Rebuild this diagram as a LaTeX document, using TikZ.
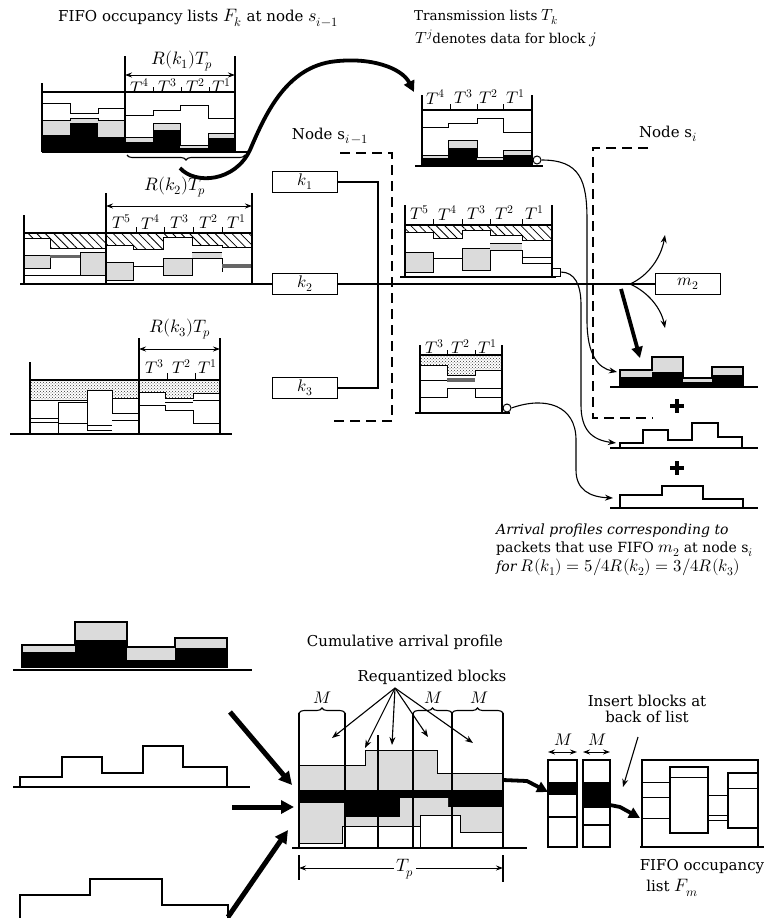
\documentclass[tikz,border=0pt]{standalone}
\usepackage{fontspec}
\usepackage{unicode-math}
\setmainfont{DejaVu Serif}
\setmathfont{Latin Modern Math}[Scale=1.2]
\usetikzlibrary{arrows.meta,decorations.pathreplacing,patterns,patterns.meta}
\tikzset{
 ol/.style={line width=1.5pt},
 il/.style={line width=1pt},
 stip/.style={fill=black!14},
 blk/.style={fill=black},
 hat/.style={pattern={Lines[angle=-45,distance=6pt,line width=0.8pt]}},
 vdot/.style={pattern=crosshatch dots, pattern color=black!80},
 txt/.style={font=\fontsize{15}{17}\selectfont, inner sep=1pt},
 stx/.style={font=\fontsize{13.5}{16}\selectfont, inner sep=1pt},
 ctx/.style={font=\fontsize{14}{15}\selectfont, inner sep=0pt},
 tl/.style={font=\fontsize{14}{16}\selectfont, inner sep=0pt},
 rl/.style={font=\fontsize{15}{17}\selectfont, inner sep=0pt},
 kbox/.style={draw, line width=1.5pt, minimum width=65pt, minimum height=21pt, inner sep=0pt, font=\fontsize{14}{16}\selectfont},
 dsh/.style={line width=1.3pt, dash pattern=on 10pt off 6pt},
 thk/.style={line width=5pt, arrows={-Triangle[length=13pt,width=13pt]}},
 thkc/.style={line width=3.8pt, arrows={-Triangle[length=11pt,width=11pt]}},
 tar/.style={line width=1.1pt, arrows={-Stealth[length=8pt,width=6pt]}},
 dim/.style={line width=1pt, arrows={Stealth[length=7pt,width=5pt]-Stealth[length=7pt,width=5pt]}},
 brc/.style={decorate, decoration={brace, amplitude=5pt}, line width=1.1pt},
}
\begin{document}
\begin{tikzpicture}[x=1pt,y=-1pt]
\useasboundingbox (0,0) rectangle (764,918);

% ---------------- titles ----------------
\node[txt] (title1) at (198,18) {FIFO occupancy lists $F_k$ at node $s_{i-1}$};
\node[stx] (title2) at (486,17) {Transmission lists $T_k$};
\node[stx] (title3) at (506,38) {$T^j$denotes data for block $j$};

% ---------------- F_k1 ----------------
\fill[stip] (42,120) rectangle (70,135); \fill[blk] (42,135) rectangle (70,151);
\fill[stip] (70,118) rectangle (98,123); \fill[blk] (70,123) rectangle (98,151);
\fill[stip] (98,120) rectangle (125,137); \fill[blk] (98,137) rectangle (125,151);
\fill[stip] (125,137) rectangle (153,142); \fill[blk] (125,142) rectangle (153,151);
\fill[stip] (153,123) rectangle (180,130); \fill[blk] (153,130) rectangle (180,151);
\fill[stip] (180,145) rectangle (208,148); \fill[blk] (180,148) rectangle (208,151);
\fill[stip] (208,133) rectangle (235,138); \fill[blk] (208,138) rectangle (235,151);
\draw[il] (42,120)--(70,120)--(70,118)--(98,118)--(98,120)--(125,120);
\draw[il] (125,137)--(153,137)--(153,123)--(180,123)--(180,145)--(208,145)--(208,133)--(235,133);
\draw[il] (42,103)--(70,103)--(70,113)--(98,113)--(98,108)--(125,108);
\draw[il] (125,115)--(153,115)--(153,110)--(180,110)--(180,105)--(208,105)--(208,118)--(235,118);
\draw[ol] (42,83)--(42,152) (125,56)--(125,152) (235,56)--(235,152) (42,92)--(235,92) (42,152)--(248,152);
\draw[dim] (125,75)--(235,75);
\node[rl] (r1) at (182,61) {$R(k_1)T_p$};
\node[tl] (a4) at (140,86) {$T^4$};
\node[tl] (a3) at (168,86) {$T^3$};
\node[tl] (a2) at (196,86) {$T^2$};
\node[tl] (a1) at (222,86) {$T^1$};
\draw[il] (153,87)--(153,92) (181,87)--(181,92) (209,87)--(209,92);
\draw[brc] (245,155) -- (127,155);
% thick curved arrow to T_k1
\draw[thkc] (180,168) .. controls (195,185) and (235,182) .. (250,150) .. controls (265,115) and (285,70) .. (330,62) .. controls (370,56) and (402,68) .. (414,92);

% ---------------- F_k2 ----------------
\fill[hat] (24,233)--(106,233)--(106,248)--(50,248)--(50,238)--(24,238)--cycle;
\fill[hat] (106,233)--(252,233)--(252,247)--(222,247)--(222,245)--(192,245)--(192,237)--(163,237)--(163,249)--(133,249)--(133,245)--(106,245)--cycle;
\draw[il] (24,238)--(50,238)--(50,248)--(106,248);
\draw[il] (106,245)--(133,245)--(133,249)--(163,249)--(163,237)--(192,237)--(192,245)--(222,245)--(222,247)--(252,247);
\draw[il,stip] (24,255) rectangle (50,268);
\fill[black!60] (50,255) rectangle (80,258);
\draw[il,stip] (80,252) rectangle (106,275);
\draw[il] (24,275)--(80,275);
\draw[il,stip] (106,262) rectangle (133,280);
\draw[il] (133,266)--(163,266);
\draw[il,stip] (163,258) rectangle (192,275);
\fill[stip] (192,252) rectangle (222,258);
\draw[il] (192,252)--(222,252) (192,258)--(222,258)--(222,272);
\fill[black!60] (222,264) rectangle (252,268);
\draw[ol] (24,215)--(24,285) (106,193)--(106,285) (252,193)--(252,285) (24,233)--(252,233);
\draw[dim] (106,206)--(252,206);
\node[rl] (r2) at (175,187) {$R(k_2)T_p$};
\node[tl] (b5) at (122,222) {$T^5$};
\node[tl] (b4) at (151,222) {$T^4$};
\node[tl] (b3) at (180,222) {$T^3$};
\node[tl] (b2) at (209,222) {$T^2$};
\node[tl] (b1) at (237,222) {$T^1$};
\draw[il] (136,227)--(136,233) (164,227)--(164,233) (193,227)--(193,233) (222,227)--(222,233);

% ---------------- F_k3 ----------------
\fill[vdot] (30,380)--(220,380)--(220,393)--(193,393)--(193,398)--(165,398)--(165,392)--(139,392)--(139,398)--(112,398)--(112,390)--(87,390)--(87,400)--(30,400)--cycle;
\draw[il] (30,400)--(87,400)--(87,390)--(112,390)--(112,398)--(139,398);
\draw[il] (139,392)--(165,392)--(165,398)--(193,398)--(193,393)--(220,393);
\draw[il] (30,418)--(58,418) (30,422)--(58,422);
\draw[il] (58,434)--(58,402)--(87,402);
\draw[il] (58,423)--(87,423);
\draw[il] (87,390)--(87,430)--(112,430) (87,425)--(112,425);
\draw[il] (112,398)--(112,413)--(139,413) (112,420)--(139,420);
\draw[il] (165,402)--(193,402);
\draw[il] (139,405)--(165,405)--(165,410)--(193,410)--(193,423)--(220,423);
\draw[il] (193,400)--(220,400);
\draw[ol] (30,362)--(30,434) (139,338)--(139,434) (220,338)--(220,434) (30,380)--(220,380) (10,434)--(232,434);
\draw[dim] (139,349)--(220,349);
\node[rl] (r3) at (180,329) {$R(k_3)T_p$};
\node[tl] (c3) at (155,367) {$T^3$};
\node[tl] (c2) at (182,367) {$T^2$};
\node[tl] (c1) at (208,367) {$T^1$};
\draw[il] (167,373)--(167,380) (195,373)--(195,380);

% ---------------- T_k1 ----------------
\fill[stip] (422,155) rectangle (448,158); \fill[blk] (422,158) rectangle (448,165);
\fill[stip] (448,140) rectangle (477,148); \fill[blk] (448,148) rectangle (477,165);
\fill[stip] (477,157) rectangle (503,160); \fill[blk] (477,160) rectangle (503,165);
\fill[stip] (503,150) rectangle (532,155); \fill[blk] (503,155) rectangle (532,165);
\draw[il] (422,155)--(448,155)--(448,140)--(477,140)--(477,157)--(503,157)--(503,150)--(532,150);
\draw[il] (422,127)--(448,127)--(448,123)--(477,123)--(477,118)--(503,118)--(503,132)--(532,132);
\draw[ol] (422,95)--(422,165) (532,95)--(532,165) (422,110)--(532,110) (415,166)--(543,166);
\node[tl] (d4) at (436,97) {$T^4$};
\node[tl] (d3) at (464,97) {$T^3$};
\node[tl] (d2) at (489,97) {$T^2$};
\node[tl] (d1) at (516,97) {$T^1$};
\draw[il] (450,104)--(450,110) (477,104)--(477,110) (503,104)--(503,110);
\node[circle, draw, il, fill=white, inner sep=0pt, minimum size=8pt] (o1) at (537,160) {};

% ---------------- T_k2 ----------------
\fill[hat] (405,225)--(552,225)--(552,240)--(522,240)--(522,235)--(490,235)--(490,230)--(462,230)--(462,238)--(433,238)--(433,232)--(405,232)--cycle;
\draw[il] (405,232)--(433,232)--(433,238)--(462,238)--(462,230)--(490,230)--(490,235)--(522,235)--(522,240)--(552,240);
\draw[il,stip] (405,252) rectangle (433,272);
\draw[il] (433,258)--(462,258);
\draw[il,stip] (462,248) rectangle (490,270);
\fill[stip] (490,243) rectangle (522,250);
\draw[il] (490,243)--(522,243) (490,250)--(522,250)--(522,263)--(552,263) (522,257)--(552,257);
\draw[ol] (405,205)--(405,277) (552,205)--(552,277) (405,225)--(552,225) (400,277)--(556,277);
\node[tl] (e5) at (420,213) {$T^5$};
\node[tl] (e4) at (448,213) {$T^4$};
\node[tl] (e3) at (477,213) {$T^3$};
\node[tl] (e2) at (505,213) {$T^2$};
\node[tl] (e1) at (535,213) {$T^1$};
\draw[il] (433,219)--(433,225) (462,219)--(462,225) (490,219)--(490,225) (522,219)--(522,225);
\node[draw, il, fill=white, inner sep=0pt, minimum size=8pt] (o2) at (556,272) {};

% ---------------- T_k3 ----------------
\fill[vdot] (420,355)--(502,355)--(502,370)--(475,370)--(475,375)--(447,375)--(447,365)--(420,365)--cycle;
\draw[il] (420,365)--(447,365)--(447,375)--(475,375)--(475,370)--(502,370);
\draw[il] (420,380)--(447,380);
\fill[black!60] (447,378) rectangle (475,382);
\draw[il] (420,397)--(447,397)--(447,388)--(475,388)--(475,397)--(502,397);
\draw[il] (475,388)--(502,388);
\draw[ol] (420,345)--(420,413) (502,345)--(502,413) (420,355)--(502,355) (415,413)--(510,413);
\node[tl] (f3) at (435,347) {$T^3$};
\node[tl] (f2) at (461,347) {$T^2$};
\node[tl] (f1) at (488,347) {$T^1$};
\draw[il] (447,350)--(447,355) (475,350)--(475,355);
\node[circle, draw, il, fill=white, inner sep=0pt, minimum size=8pt] (o3) at (507,408) {};

% ---------------- node s_{i-1} ----------------
\node[txt] (ns1) at (330,136) {Node s$_{i\,-1}$};
\draw[dsh] (340,153)--(392,153)--(392,421)--(330,421);
\node[kbox] (k1) at (305,182) {$k_1$};
\node[kbox] (k2) at (305,284) {$k_2$};
\node[kbox] (k3) at (305,388) {$k_3$};
\coordinate (j1) at (378,182);
\coordinate (j3) at (378,388);
\draw[ol] (k1.east) -- (j1) -- (j3) -- (k3.east);
\coordinate (f2start) at (20,284);
\draw[ol] (f2start) -- (k2.west);
\node[kbox] (m2) at (688,284) {$m_2$};
\coordinate (br) at (630,284);
\draw[ol] (k2.east) -- (m2.west);

% ---------------- node s_i ----------------
\node[txt] (ns2) at (668,134) {Node s$_i$};
\draw[dsh] (648,148)--(593,148)--(593,418)--(653,418);

% branch arrows
\coordinate (up) at (665,235);
\coordinate (dn) at (665,328);
\draw[tar] (br) .. controls (648,276) and (661,258) .. (up);
\draw[tar] (br) .. controls (648,292) and (661,308) .. (dn);
\coordinate (tk1) at (621,289);
\coordinate (tk2) at (640,358);
\draw[thkc] (tk1) -- (tk2);

% curves from T lists to profiles
\coordinate (p1s) at (617,372);
\coordinate (p2s) at (616,443);
\coordinate (p3s) at (613,498);
\draw[tar] (o1.east) .. controls (580,160) and (587,180) .. (587,220) -- (587,320) .. controls (587,355) and (598,368) .. (p1s);
\draw[tar] (o2.east) .. controls (575,272) and (581,285) .. (581,305) -- (581,405) .. controls (581,430) and (592,440) .. (p2s);
\draw[tar] (o3.east) .. controls (545,396) and (576,405) .. (576,440) -- (576,470) .. controls (576,490) and (590,497) .. (p3s);

% arrival profiles
\fill[stip] (620,370) rectangle (652,377); \fill[blk] (620,377) rectangle (652,386);
\fill[stip] (652,357) rectangle (683,372); \fill[blk] (652,372) rectangle (683,386);
\fill[stip] (683,378) rectangle (712,382); \fill[blk] (683,382) rectangle (712,386);
\fill[stip] (712,367) rectangle (743,375); \fill[blk] (712,375) rectangle (743,386);
\draw[ol] (620,387)--(620,370)--(652,370)--(652,357)--(683,357)--(683,378)--(712,378)--(712,367)--(743,367)--(743,387);
\draw[ol] (610,387)--(758,387);
\draw[line width=3.5pt] (670,406)--(684,406) (677,399)--(677,413);
\draw[ol] (620,447)--(620,443)--(643,443)--(643,430)--(668,430)--(668,440)--(692,440)--(692,423)--(718,423)--(718,437)--(742,437)--(742,447);
\draw[ol] (610,448)--(758,448);
\draw[line width=3.5pt] (670,468)--(684,468) (677,461)--(677,475);
\draw[ol] (620,508)--(620,495)--(662,495)--(662,486)--(703,486)--(703,499)--(743,499)--(743,508);
\draw[ol] (610,508)--(758,508);
\node[ctx, anchor=west] (cap1) at (496,531) {\itshape Arrival profiles corresponding to};
\node[ctx, anchor=west] (cap2) at (496,549) {packets that use FIFO $m_2$ at node s$_i$};
\node[ctx, anchor=west] (cap3) at (496,567) {\itshape for $R(k_1) = 5/4R(k_2) = 3/4R(k_3)$};

% ---------------- bottom left profiles ----------------
\fill[stip] (22,645) rectangle (75,652); \fill[blk] (22,652) rectangle (75,668);
\fill[stip] (75,622) rectangle (127,640); \fill[blk] (75,640) rectangle (127,668);
\fill[stip] (127,647) rectangle (175,660); \fill[blk] (127,660) rectangle (175,668);
\fill[stip] (175,638) rectangle (227,648); \fill[blk] (175,648) rectangle (227,668);
\draw[ol] (22,668)--(22,645)--(75,645)--(75,622)--(127,622)--(127,647)--(175,647)--(175,638)--(227,638)--(227,668);
\draw[ol] (13,670)--(252,670);
\draw[ol] (20,787)--(20,777)--(62,777)--(62,757)--(102,757)--(102,773)--(143,773)--(143,746)--(183,746)--(183,767)--(227,767)--(227,787);
\draw[ol] (13,787)--(250,787);
\draw[ol] (20,918)--(20,895)--(90,895)--(90,879)--(162,879)--(162,905)--(228,905)--(228,918);
\coordinate (ba1) at (230,712); \coordinate (ea1) at (292,785);
\coordinate (ba2) at (232,807); \coordinate (ea2) at (294,807);
\coordinate (ba3) at (228,917); \coordinate (ea3) at (288,830);
\draw[thk] (ba1) -- (ea1);
\draw[thk] (ba2) -- (ea2);
\draw[thk] (ba3) -- (ea3);

% ---------------- cumulative block ----------------
\node[txt] (cum) at (405,642) {Cumulative arrival profile};
\node[txt] (req) at (432,677) {Requantized blocks};
\fill[stip] (299,765)--(365,765)--(365,750)--(437,750)--(437,773)--(503,773)--(503,790)--(299,790)--cycle;
\fill[blk] (299,790)--(503,790)--(503,807)--(448,807)--(448,798)--(400,798)--(400,817)--(345,817)--(345,803)--(299,803)--cycle;
\fill[stip] (299,803)--(345,803)--(345,817)--(400,817)--(400,798)--(448,798)--(448,807)--(503,807)--(503,832)--(460,832)--(460,815)--(420,815)--(420,826)--(342,826)--(342,843)--(299,843)--cycle;
\draw[il] (299,765)--(365,765)--(365,750)--(437,750)--(437,773)--(503,773);
\draw[il] (299,843)--(342,843)--(342,826)--(420,826)--(420,815)--(460,815)--(460,832)--(503,832);
\draw[il] (420,815)--(420,848);
\draw[ol] (299,713)--(299,848) (345,713)--(345,848) (378,735)--(378,848) (413,713)--(413,848) (452,713)--(452,848) (503,713)--(503,848);
\draw[ol] (292,848)--(527,848);
\draw[brc] (299,713) -- (345,713);
\draw[brc] (413,713) -- (452,713);
\draw[brc] (452,713) -- (503,713);
\node[tl] (M1) at (323,698) {$M$};
\node[tl] (M2) at (433,698) {$M$};
\node[tl] (M3) at (479,698) {$M$};
\coordinate (apex) at (395,688);
\coordinate (q1) at (332,738);
\coordinate (q2) at (365,748);
\coordinate (q3) at (392,745);
\coordinate (q4) at (428,737);
\coordinate (q5) at (473,743);
\draw[tar] (apex) -- (q1);
\draw[tar] (apex) -- (q2);
\draw[tar] (apex) -- (q3);
\draw[tar] (apex) -- (q4);
\draw[tar] (apex) -- (q5);
\draw[ol] (299,855)--(299,880) (503,855)--(503,882);
\draw[dim] (299,868)--(503,868);
\node[rl, fill=white, inner sep=2pt] (tp) at (405,869) {$T_p$};

% block -> M blocks
\coordinate (mb1) at (503,780);
\coordinate (mb2) at (548,792);
\draw[thkc] (mb1) -- (527,781) -- (mb2);
\draw[ol] (548,760) rectangle (577,847);
\fill[blk] (548,782) rectangle (577,795);
\draw[ol] (548,817)--(577,817);
\draw[ol] (583,760) rectangle (610,847);
\fill[blk] (583,782) rectangle (610,808);
\draw[ol] (583,825)--(610,825);
\node[tl] (M4) at (563,740) {$M$};
\node[tl] (M5) at (597,740) {$M$};
\draw[dim] (548,752)--(577,752);
\draw[dim] (583,752)--(610,752);
\coordinate (fm1) at (610,805);
\coordinate (fm2) at (640,818);
\draw[thkc] (fm1) -- (620,807) -- (fm2);

% FIFO list F_m
\node[txt] (ins1) at (647,701) {Insert blocks at};
\node[txt] (ins2) at (647,717) {back of list};
\coordinate (ia) at (638,737);
\coordinate (ib) at (623,787);
\draw[tar] (ia) -- (ib);
\draw[ol] (642,847)--(642,760)--(758,760)--(758,847);
\draw[ol] (640,847)--(764,847);
\draw[il] (642,782)--(670,782) (642,797)--(670,797) (642,818)--(670,818);
\draw[ol] (670,767) rectangle (708,833);
\draw[il] (670,777)--(708,777);
\draw[il] (708,795)--(728,795) (708,815)--(728,815) (708,820)--(728,820);
\draw[ol] (728,773) rectangle (758,828);
\draw[il] (728,788)--(758,788);
\node[txt] (fo1) at (702,867) {FIFO occupancy};
\node[txt] (fo2) at (672,888) {list $F_m$};
\end{tikzpicture}
\end{document}
